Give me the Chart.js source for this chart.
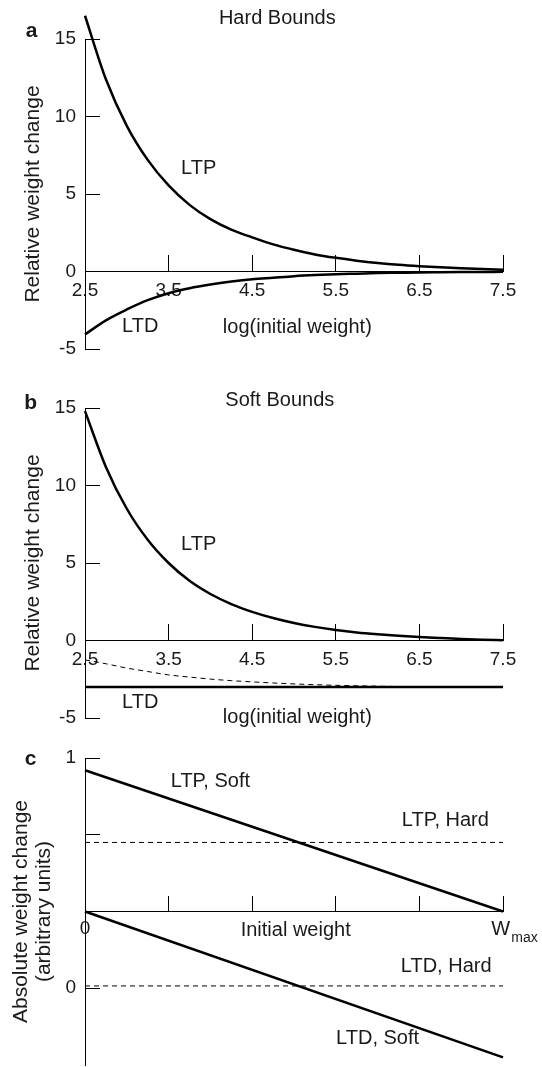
<!DOCTYPE html>
<html>
<head>
<meta charset="utf-8">
<script src="https://cdn.jsdelivr.net/npm/chart.js@4.4.1/dist/chart.umd.min.js"></script>
<style>
  body { margin: 0; background: #fff; }
  .panel { position: absolute; left: 0; width: 542px; }
</style>
</head>
<body>
<div class="panel" style="top:0;height:365px"><canvas id="chartA"></canvas></div>
<div class="panel" style="top:365px;height:365px"><canvas id="chartB"></canvas></div>
<div class="panel" style="top:730px;height:337px"><canvas id="chartC"></canvas></div>
<script>
// log(initial weight) sample points
const logWeight = [2.5, 2.75, 3.0, 3.25, 3.5, 3.75, 4.0, 4.25, 4.5, 4.75, 5.0,
                   5.25, 5.5, 5.75, 6.0, 6.25, 6.5, 6.75, 7.0, 7.25, 7.5];

// panel a, hard bounds (relative change)
const ltpHard = [16.5, 12.4, 9.4, 7.2, 5.55, 4.3, 3.38, 2.7, 2.2, 1.75, 1.4,
                 1.1, 0.88, 0.7, 0.55, 0.43, 0.34, 0.27, 0.21, 0.16, 0.12];
const ltdHard = [-4.06, -3.15, -2.45, -1.85, -1.4, -1.08, -0.84, -0.65, -0.5, -0.4, -0.3,
                 -0.23, -0.18, -0.14, -0.1, -0.08, -0.06, -0.05, -0.04, -0.03, -0.02];

// panel b, soft bounds (relative change)
const ltpSoft = [14.8, 11.2, 8.5, 6.5, 5.0, 3.85, 3.0, 2.35, 1.85, 1.45, 1.13,
                 0.88, 0.68, 0.52, 0.4, 0.3, 0.22, 0.16, 0.1, 0.05, 0.02];
const ltdSoftDashed = [-1.25, -1.5, -1.78, -2.0, -2.22, -2.36, -2.49, -2.59, -2.67, -2.74, -2.8,
                       -2.85, -2.89, -2.92, -2.95, -2.97, -2.98, -2.99, -3.0, -3.0, -3.0];
const ltdSoftX = [2.5, 7.5];
const ltdSoft = [-3.0, -3.0];

const relTicksX = [2.5, 3.5, 4.5, 5.5, 6.5, 7.5];
const relTicksY = [-5, 0, 5, 10, 15];

// panel c, absolute change (axis in tick steps)
const initWeight = [0, 5];
const ltpSoftAbs = [2.84, 1.0];
const ltpHardAbs = [1.9, 1.9];
const ltdSoftAbs = [1.0, -0.9];
const ltdHardAbs = [0.03, 0.03];
const absTicksX = [0, 1, 2, 3, 4, 5];
const absTicksY = [0, 1, 2, 3];
const absTickLabels = {0: '0', 3: '1'};

const FONT = '"Liberation Sans", Arial, Helvetica, sans-serif';
const INK = '#1a1a1a';

function pts(xs, ys) {
    return xs.map((x, i) => ({x: x, y: ys[i]}));
}

function curve(data, dashed) {
    return {
        data: data,
        borderColor: '#000',
        borderWidth: dashed ? 1 : 2.5,
        borderDash: dashed ? [5, 4] : [],
        pointRadius: 0,
        tension: 0.4,
        cubicInterpolationMode: 'monotone',
        clip: false
    };
}

function makeLabels(items) {
    return {
        id: 'labels',
        afterDraw(chart) {
            const {ctx, scales} = chart;
            ctx.save();
            ctx.fillStyle = INK;
            ctx.textBaseline = 'middle';
            items.forEach(it => {
                ctx.font = (it.font || '20px') + ' ' + FONT;
                ctx.textAlign = it.align || 'center';
                ctx.fillText(it.text, scales.x.getPixelForValue(it.x), scales.y.getPixelForValue(it.y));
            });
            ctx.restore();
        }
    };
}

function makeScales(o) {
    return {
        x: {
            type: 'linear',
            min: o.xMin, max: o.xMax,
            position: {y: o.axisY},
            afterBuildTicks: s => { s.ticks = o.xTicks.map(v => ({value: v})); },
            border: {display: true, color: '#000', width: 1},
            grid: {drawOnChartArea: false, drawTicks: true, tickLength: -o.xTickLen, color: '#000', lineWidth: 1},
            ticks: {
                color: INK, font: {family: FONT, size: 19}, padding: o.xPad,
                maxRotation: 0, autoSkip: false,
                callback: o.xLabel
            }
        },
        y: {
            type: 'linear',
            position: 'left',
            min: o.yMin, max: o.yMax,
            afterBuildTicks: s => { s.ticks = o.yTicks.map(v => ({value: v})); },
            // fixed width, and no extra top/bottom room from the label padding
            afterFit: s => { s.width = 85; s.paddingTop = 0; s.paddingBottom = 0; },
            border: {display: true, color: '#000', width: 1},
            grid: {drawOnChartArea: false, drawTicks: true, tickLength: -15, color: '#000', lineWidth: 1},
            ticks: {
                color: INK, font: {family: FONT, size: 19}, padding: 24,
                autoSkip: false,
                callback: o.yLabel
            },
            title: {
                display: true, text: o.yTitle, color: INK,
                font: {family: FONT, size: 21, lineHeight: o.yTitleLH},
                padding: {top: o.yTitlePad, bottom: 0}
            }
        }
    };
}

function baseOptions(padding, scales) {
    return {
        responsive: true,
        maintainAspectRatio: false,
        animation: false,
        layout: {padding: padding},
        plugins: {legend: {display: false}, tooltip: {enabled: false}, title: {display: false}},
        scales: scales
    };
}

const relX = v => String(v);
const relY = v => String(v);

// a: Hard Bounds
new Chart(document.getElementById('chartA'), {
    type: 'line',
    data: {datasets: [curve(pts(logWeight, ltpHard)), curve(pts(logWeight, ltdHard))]},
    options: baseOptions({top: 39, bottom: 16, left: 0, right: 39}, makeScales({
        xMin: 2.5, xMax: 7.5, axisY: 0, xTicks: relTicksX, xTickLen: 17, xPad: 25, xLabel: relX,
        yMin: -5, yMax: 15, yTicks: relTicksY, yLabel: relY,
        yTitle: 'Relative weight change', yTitlePad: 21, yTitleLH: 1.2
    })),
    plugins: [makeLabels([
        {text: 'Hard Bounds', x: 4.80, y: 16.3},
        {text: 'a', x: 1.86, y: 15.5, font: 'bold 21px'},
        {text: 'LTP', x: 3.86, y: 6.65},
        {text: 'LTD', x: 3.16, y: -3.55},
        {text: 'log(initial weight)', x: 5.04, y: -3.6}
    ])]
});

// b: Soft Bounds
new Chart(document.getElementById('chartB'), {
    type: 'line',
    data: {datasets: [
        curve(pts(logWeight, ltpSoft)),
        curve(pts(logWeight, ltdSoftDashed), true),
        curve(pts(ltdSoftX, ltdSoft))
    ]},
    options: baseOptions({top: 43, bottom: 12, left: 0, right: 39}, makeScales({
        xMin: 2.5, xMax: 7.5, axisY: 0, xTicks: relTicksX, xTickLen: 17, xPad: 25, xLabel: relX,
        yMin: -5, yMax: 15, yTicks: relTicksY, yLabel: relY,
        yTitle: 'Relative weight change', yTitlePad: 21, yTitleLH: 1.2
    })),
    plugins: [makeLabels([
        {text: 'Soft Bounds', x: 4.83, y: 15.5},
        {text: 'b', x: 1.85, y: 15.3, font: 'bold 21px'},
        {text: 'LTP', x: 3.86, y: 6.2},
        {text: 'LTD', x: 3.16, y: -4.0},
        {text: 'log(initial weight)', x: 5.04, y: -4.97}
    ])]
});

// c: absolute change vs initial weight
new Chart(document.getElementById('chartC'), {
    type: 'line',
    data: {datasets: [
        curve(pts(initWeight, ltpSoftAbs)),
        curve(pts(initWeight, ltpHardAbs), true),
        curve(pts(initWeight, ltdSoftAbs)),
        curve(pts(initWeight, ltdHardAbs), true)
    ]},
    options: baseOptions({top: 28, bottom: 2, left: 0, right: 39}, makeScales({
        xMin: 0, xMax: 5, axisY: 1, xTicks: absTicksX, xTickLen: 16, xPad: 22,
        xLabel: v => (v === 0 ? '0' : ''),
        yMin: -1, yMax: 3, yTicks: absTicksY,
        yLabel: v => absTickLabels[v] || '',
        yTitle: ['Absolute weight change', '(arbitrary units)'], yTitlePad: 9.5, yTitleLH: 1.1
    })),
    plugins: [makeLabels([
        {text: 'c', x: -0.65, y: 2.99, font: 'bold 21px'},
        {text: 'LTP, Soft', x: 1.5, y: 2.69},
        {text: 'LTP, Hard', x: 4.31, y: 2.19},
        {text: 'LTD, Hard', x: 4.32, y: 0.29},
        {text: 'LTD, Soft', x: 3.5, y: -0.65},
        {text: 'Initial weight', x: 2.52, y: 0.75},
        {text: 'W', x: 4.86, y: 0.77, align: 'left'},
        {text: 'max', x: 5.1, y: 0.65, align: 'left', font: '14px'}
    ])]
});
</script>
</body>
</html>
